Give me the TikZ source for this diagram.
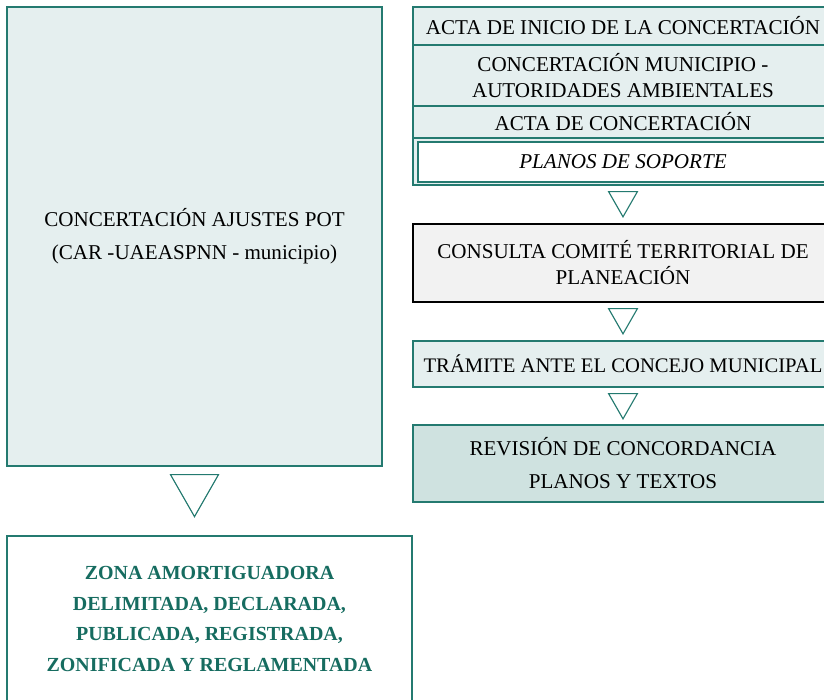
\documentclass[tikz,border=0pt]{standalone}
\usepackage{fontspec}
\setmainfont{Liberation Serif}
\usetikzlibrary{calc}
\definecolor{tealline}{RGB}{36,122,112}
\definecolor{tealtext}{RGB}{22,108,96}
\definecolor{palefill}{RGB}{229,239,239}
\definecolor{deepfill}{RGB}{207,226,224}
\definecolor{greyfill}{RGB}{242,242,242}

\begin{document}
\begin{tikzpicture}[
  box/.style={draw=tealline, line width=0.9pt, fill=palefill, inner sep=0pt, align=center, font=\fontsize{15}{18.5}\selectfont},
  tri/.style={draw=tealline, line width=0.8pt, fill=white, line join=miter}
]
  \useasboundingbox (0,0) rectangle (20.6,17.5);
  \clip (0,0) rectangle (20.6,17.5);
  % left column
  \node[box, minimum width=9.375cm, minimum height=11.475cm, font=\fontsize{15}{23.4}\selectfont] (ajustes) at (4.8625,11.5875) {CONCERTACIÓN AJUSTES POT\\(CAR -UAEASPNN - municipio)};
  \node[box, fill=white, minimum width=10.125cm, minimum height=4.15cm, text=tealtext, font=\bfseries\fontsize{14.2}{22}\selectfont] (zona) at (5.2375,2.025) {ZONA AMORTIGUADORA\\DELIMITADA, DECLARADA,\\PUBLICADA, REGISTRADA,\\ZONIFICADA Y REGLAMENTADA};
  \draw[tri] ($(ajustes.south)+(-0.6,-0.2)$) -- ++(1.2,0) -- ($(ajustes.south)+(0,-1.25)$) -- cycle;
  % right column
  \node[box, minimum width=10.5cm, minimum height=4.45cm] (grupo) at (15.575,15.1) {};
  \node[box, minimum width=10.5cm, minimum height=0.95cm] (inicio) at (15.575,16.85) {ACTA DE INICIO DE LA CONCERTACIÓN};
  \node[box, minimum width=10.5cm, minimum height=1.525cm] (mesa) at (15.575,15.6125) {CONCERTACIÓN MUNICIPIO -\\AUTORIDADES AMBIENTALES};
  \node[box, minimum width=10.5cm, minimum height=0.8cm] (acta) at (15.575,14.45) {ACTA DE CONCERTACIÓN};
  \node[box, fill=white, line width=1.2pt, minimum width=10.25cm, minimum height=1.0cm, font=\itshape\fontsize{15}{18.5}\selectfont] (planos) at (15.575,13.45) {PLANOS DE SOPORTE};
  \node[box, draw=black, fill=greyfill, minimum width=10.5cm, minimum height=1.95cm] (consulta) at (15.575,10.925) {CONSULTA COMITÉ TERRITORIAL DE\\PLANEACIÓN};
  \node[box, minimum width=10.5cm, minimum height=1.15cm, font=\fontsize{14.7}{18.5}\selectfont] (tramite) at (15.575,8.4) {TRÁMITE ANTE EL CONCEJO MUNICIPAL};
  \node[box, fill=deepfill, minimum width=10.5cm, minimum height=1.925cm, font=\fontsize{15}{23.4}\selectfont] (revision) at (15.575,5.9125) {REVISIÓN DE CONCORDANCIA\\PLANOS Y TEXTOS};
  \foreach \a in {grupo,consulta,tramite}
    \draw[tri] ($(\a.south)+(-0.36,-0.15)$) -- ++(0.72,0) -- ($(\a.south)+(0,-0.78)$) -- cycle;
\end{tikzpicture}
\end{document}
